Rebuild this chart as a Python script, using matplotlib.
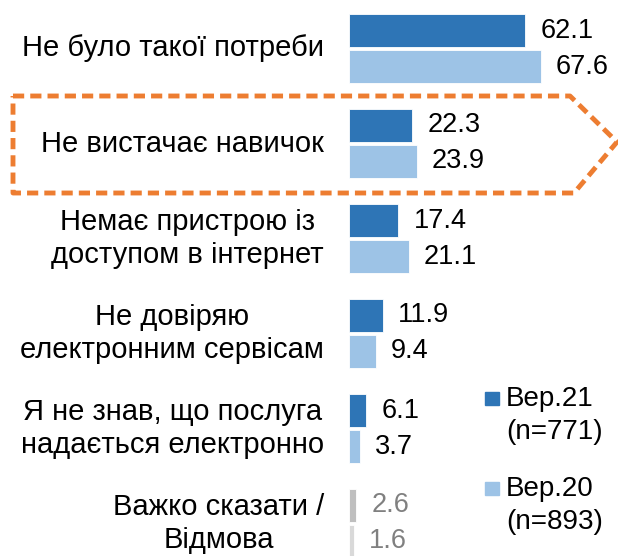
import matplotlib
matplotlib.use("Agg")
import matplotlib.pyplot as plt
from matplotlib.patches import Rectangle
from matplotlib.lines import Line2D

plt.rcParams['font.family'] = ['Liberation Sans', 'DejaVu Sans']

# дані
categories = ["Не було такої потреби",
              "Не вистачає навичок",
              "Немає пристрою із\nдоступом в інтернет",
              "Не довіряю\nелектронним сервісам",
              "Я не знав, що послуга\nнадається електронно",
              "Важко сказати /\nВідмова"]
ver21 = [62.1, 22.3, 17.4, 11.9, 6.1, 2.6]
ver20 = [67.6, 23.9, 21.1, 9.4, 3.7, 1.6]
legend_labels = ["Вер.21\n(n=771)", "Вер.20\n(n=893)"]

W, H = 618, 556
fig = plt.figure(figsize=(W / 100, H / 100), dpi=100)

# осі з барами (у пікселях по вертикалі)
x0 = 349
ax = fig.add_axes([x0 / W, 0, 1 - x0 / W, 1])
ax.set_xlim(0, (W - x0) / 2.84)
ax.set_ylim(H, 0)
ax.axis("off")

pitch = 95
bh = 33
dark_c = ["#2e75b6"] * 5 + ["#bfbfbf"]
light_c = ["#9dc3e6"] * 5 + ["#d9d9d9"]
txt_c = ["black"] * 5 + ["#808080"]
fs_lab = 21
fs_val = 19.5

for i in range(len(categories)):
    y1 = 30.5 + pitch * i
    y2 = y1 + 36
    ax.barh(y1, ver21[i], height=bh, color=dark_c[i], edgecolor="white", linewidth=0.6)
    ax.barh(y2, ver20[i], height=bh, color=light_c[i], edgecolor="white", linewidth=0.6)
    ax.annotate(f"{ver21[i]:.1f}", (ver21[i], y1), xytext=(15, 0), textcoords="offset pixels",
                ha="left", va="center", fontsize=fs_val, color=txt_c[i], annotation_clip=False)
    ax.annotate(f"{ver20[i]:.1f}", (ver20[i], y2), xytext=(15, 0), textcoords="offset pixels",
                ha="left", va="center", fontsize=fs_val, color=txt_c[i], annotation_clip=False)

# накладка для підписів, рамки і легенди
ov = fig.add_axes([0, 0, 1, 1], zorder=-1)
ov.set_xlim(0, W)
ov.set_ylim(H, 0)
ov.axis("off")

for i, c in enumerate(categories):
    ov.text(324, 48.5 + pitch * i, c, ha="right", va="center", multialignment="center",
            fontsize=fs_lab, linespacing=1.27)

# помаранчева пунктирна рамка
bx = [13, 570, 617, 574, 13, 13]
by = [96, 96, 142, 193, 193, 96]
ov.add_line(Line2D(bx, by, color="#ed7d31", linewidth=3.5, linestyle=(0, (2.3, 1.25)),
                   solid_joinstyle="miter", clip_on=False))

# легенда
leg_y = [399, 489]
for c, ly, lab in zip(["#2e75b6", "#9dc3e6"], leg_y, legend_labels):
    ov.add_patch(Rectangle((485, ly - 7), 14, 13, color=c))
    l1, l2 = lab.split("\n")
    ov.text(506, ly, l1, ha="left", va="center", fontsize=fs_val + 0.5)
    ov.text(506, ly + 33, l2, ha="left", va="center", fontsize=fs_val + 0.5)

fig.savefig("out.png", dpi=100)
